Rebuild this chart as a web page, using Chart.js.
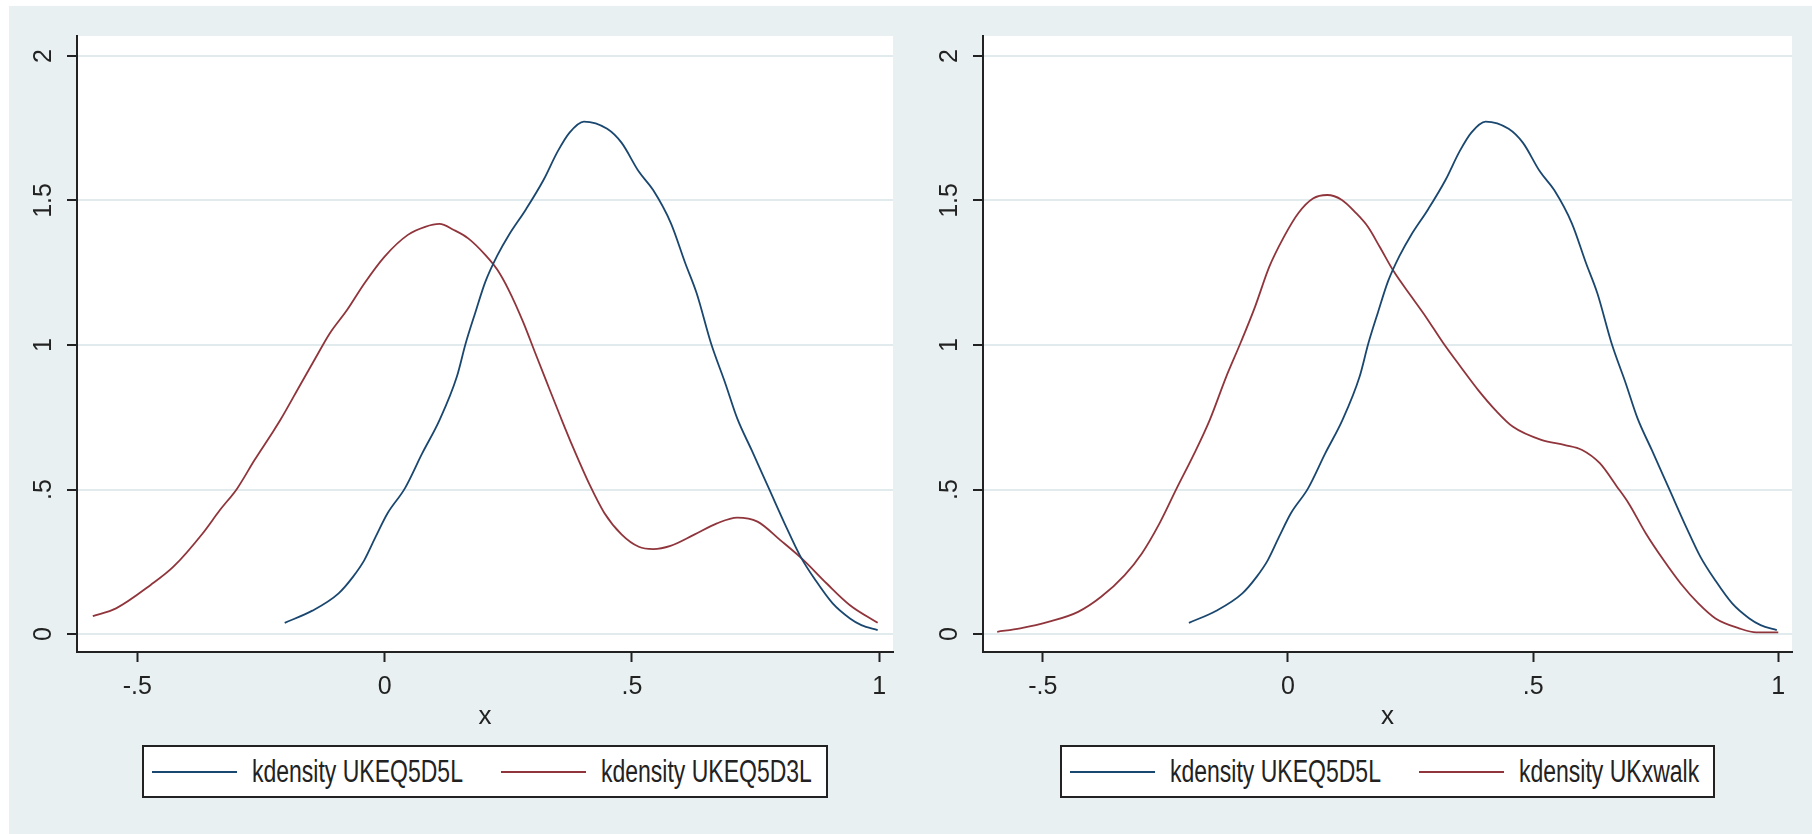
<!DOCTYPE html>
<html>
<head>
<meta charset="utf-8">
<script src="https://cdn.jsdelivr.net/npm/chart.js@4/dist/chart.umd.min.js"></script>
<style>
  body { margin: 0; background: #fff; width: 1812px; height: 834px; overflow: hidden; position: relative; }
  #bg { position: absolute; left: 9px; top: 6px; width: 1803px; height: 828px; background: #e9f0f2; }
  canvas { position: absolute; top: 0; }
  #left { left: 0; }
  #right { left: 906px; }
  .legend {
    position: absolute; top: 745px; height: 53px; box-sizing: border-box;
    border: 2px solid #222; background: #fff;
    display: flex; align-items: center; padding: 0 14px 0 8px;
    font-family: 'Liberation Sans', Arial, sans-serif;
    font-size: 23px; color: #222; white-space: nowrap;
  }
  .legend .ln { width: 85px; height: 2px; margin-right: 15px; }
  .legend .txt { display: inline-block; transform: scaleY(1.35); }
  .legend .gap { width: 38px; }
</style>
</head>
<body>
<div id="bg"></div>
<canvas id="left" width="906" height="736"></canvas>
<canvas id="right" width="906" height="736"></canvas>
<div class="legend" id="legLeft"></div>
<div class="legend" id="legRight"></div>
<script>
// axis ticks
const xTicks = [-0.5, 0, 0.5, 1];
const yTicks = [0, 0.5, 1, 1.5, 2];

// kdensity UKEQ5D5L (same curve in both panels)
const eq5d5lX = [-0.202, -0.146, -0.093, -0.064, -0.041, -0.018, 0.006, 0.041, 0.076, 0.111,
  0.146, 0.164, 0.183, 0.204, 0.228, 0.251, 0.286, 0.321, 0.350, 0.374, 0.403, 0.450, 0.479,
  0.514, 0.543, 0.579, 0.608, 0.631, 0.660, 0.689, 0.713, 0.742, 0.777, 0.812, 0.841, 0.871,
  0.906, 0.941, 0.964, 0.997];
const eq5d5lY = [0.039, 0.081, 0.141, 0.198, 0.256, 0.337, 0.418, 0.504, 0.625, 0.740,
  0.890, 1.006, 1.110, 1.220, 1.310, 1.380, 1.470, 1.570, 1.670, 1.735, 1.773, 1.748, 1.700,
  1.600, 1.536, 1.421, 1.283, 1.179, 1.006, 0.867, 0.746, 0.637, 0.504, 0.371, 0.268, 0.187,
  0.106, 0.054, 0.031, 0.014];

// kdensity UKEQ5D3L
const eq5d3lX = [-0.590, -0.543, -0.473, -0.427, -0.368, -0.333, -0.298, -0.263, -0.228, -0.210,
  -0.169, -0.140, -0.111, -0.076, -0.041, 0.000, 0.047, 0.082, 0.111, 0.140, 0.169, 0.204,
  0.228, 0.251, 0.280, 0.304, 0.327, 0.356, 0.380, 0.415, 0.444, 0.479, 0.514, 0.543, 0.578,
  0.625, 0.672, 0.713, 0.754, 0.800, 0.847, 0.894, 0.941, 0.997];
const eq5d3lY = [0.062, 0.089, 0.170, 0.233, 0.348, 0.429, 0.504, 0.602, 0.694, 0.743,
  0.867, 0.954, 1.040, 1.121, 1.213, 1.306, 1.381, 1.409, 1.419, 1.398, 1.369, 1.311,
  1.260, 1.190, 1.080, 0.975, 0.875, 0.750, 0.650, 0.515, 0.420, 0.345, 0.302, 0.294, 0.305,
  0.343, 0.383, 0.403, 0.389, 0.325, 0.256, 0.175, 0.100, 0.039];

// kdensity UKxwalk
const xwalkX = [-0.593, -0.546, -0.487, -0.428, -0.381, -0.333, -0.298, -0.262, -0.227, -0.191,
  -0.159, -0.126, -0.097, -0.067, -0.038, -0.008, 0.021, 0.051, 0.080, 0.110, 0.139, 0.163,
  0.187, 0.216, 0.252, 0.281, 0.317, 0.352, 0.388, 0.423, 0.459, 0.518, 0.565, 0.600, 0.636,
  0.671, 0.695, 0.730, 0.766, 0.801, 0.837, 0.872, 0.920, 0.955, 1.000];
const xwalkY = [0.008, 0.020, 0.043, 0.077, 0.129, 0.204, 0.279, 0.383, 0.504, 0.625,
  0.743, 0.890, 1.006, 1.133, 1.271, 1.375, 1.456, 1.507, 1.519, 1.502, 1.456, 1.409,
  1.340, 1.254, 1.167, 1.098, 1.006, 0.925, 0.844, 0.775, 0.717, 0.671, 0.654, 0.637, 0.591,
  0.510, 0.452, 0.348, 0.256, 0.175, 0.106, 0.054, 0.020, 0.006, 0.006];

const xMin = -0.622, xMax = 1.028;
const yMin = -0.062, yMax = 2.069;

const navy = '#1a476f';
const maroon = '#90353b';
const fontFamily = "'Liberation Sans', Arial, sans-serif";

function toPoints(xs, ys) {
  return xs.map((x, i) => ({ x: x, y: ys[i] }));
}

function fmt(v) {
  if (v === 0) return '0';
  return String(v).replace(/^(-?)0\./, '$1.');
}

// white plot region behind the curves
const plotBg = {
  id: 'plotBg',
  beforeDraw(chart) {
    const a = chart.chartArea;
    chart.ctx.save();
    chart.ctx.fillStyle = '#fff';
    chart.ctx.fillRect(a.left, a.top, a.right - a.left, a.bottom - a.top);
    chart.ctx.restore();
  }
};

function makePanel(id, redLabel, redX, redY, padRight) {
  const ctx = document.getElementById(id).getContext('2d');
  return new Chart(ctx, {
    type: 'line',
    data: {
      datasets: [
        { label: 'kdensity UKEQ5D5L', data: toPoints(eq5d5lX, eq5d5lY), borderColor: navy },
        { label: redLabel, data: toPoints(redX, redY), borderColor: maroon }
      ]
    },
    options: {
      responsive: false,
      animation: false,
      parsing: false,
      elements: {
        point: { radius: 0 },
        line: { borderWidth: 1.8, cubicInterpolationMode: 'monotone', fill: false }
      },
      layout: { padding: { left: 0, top: 36, right: padRight, bottom: 0 } },
      plugins: { legend: { display: false }, tooltip: { enabled: false } },
      scales: {
        x: {
          type: 'linear', min: xMin, max: xMax,
          afterBuildTicks: s => { s.ticks = xTicks.map(v => ({ value: v })); },
          afterFit: s => { s.height = 84; },
          border: { display: true, color: '#222', width: 2 },
          grid: { drawOnChartArea: false, tickLength: 10, tickColor: '#222', tickWidth: 2 },
          ticks: { callback: v => fmt(v), color: '#222', padding: 10, maxRotation: 0,
                   font: { family: fontFamily, size: 25 } },
          title: { display: true, text: 'x', color: '#222', padding: { top: 4, bottom: 4 },
                   font: { family: fontFamily, size: 26 } }
        },
        y: {
          type: 'linear', min: yMin, max: yMax,
          afterBuildTicks: s => { s.ticks = yTicks.map(v => ({ value: v })); },
          afterFit: s => { s.width = 77; },
          border: { display: true, color: '#222', width: 2 },
          grid: { color: '#e1ebee', lineWidth: 2, tickLength: 10, tickColor: '#222', tickWidth: 2 },
          ticks: { callback: v => fmt(v), color: '#222', padding: 6,
                   minRotation: 90, maxRotation: 90, crossAlign: 'center',
                   font: { family: fontFamily, size: 25 } }
        }
      }
    },
    plugins: [plotBg]
  });
}

const leftChart = makePanel('left', 'kdensity UKEQ5D3L', eq5d3lX, eq5d3lY, 13);
const rightChart = makePanel('right', 'kdensity UKxwalk', xwalkX, xwalkY, 20);

// legend boxes centred under each plot area
function buildLegend(elId, chart, offsetX) {
  const box = document.getElementById(elId);
  chart.data.datasets.forEach((ds, i) => {
    if (i > 0) {
      const g = document.createElement('span');
      g.className = 'gap';
      box.appendChild(g);
    }
    const ln = document.createElement('span');
    ln.className = 'ln';
    ln.style.background = ds.borderColor;
    box.appendChild(ln);
    const t = document.createElement('span');
    t.className = 'txt';
    t.textContent = ds.label;
    box.appendChild(t);
  });
  const a = chart.chartArea;
  const cx = offsetX + (a.left + a.right) / 2;
  box.style.left = (cx - box.offsetWidth / 2) + 'px';
}

buildLegend('legLeft', leftChart, 0);
buildLegend('legRight', rightChart, 906);
</script>
</body>
</html>
